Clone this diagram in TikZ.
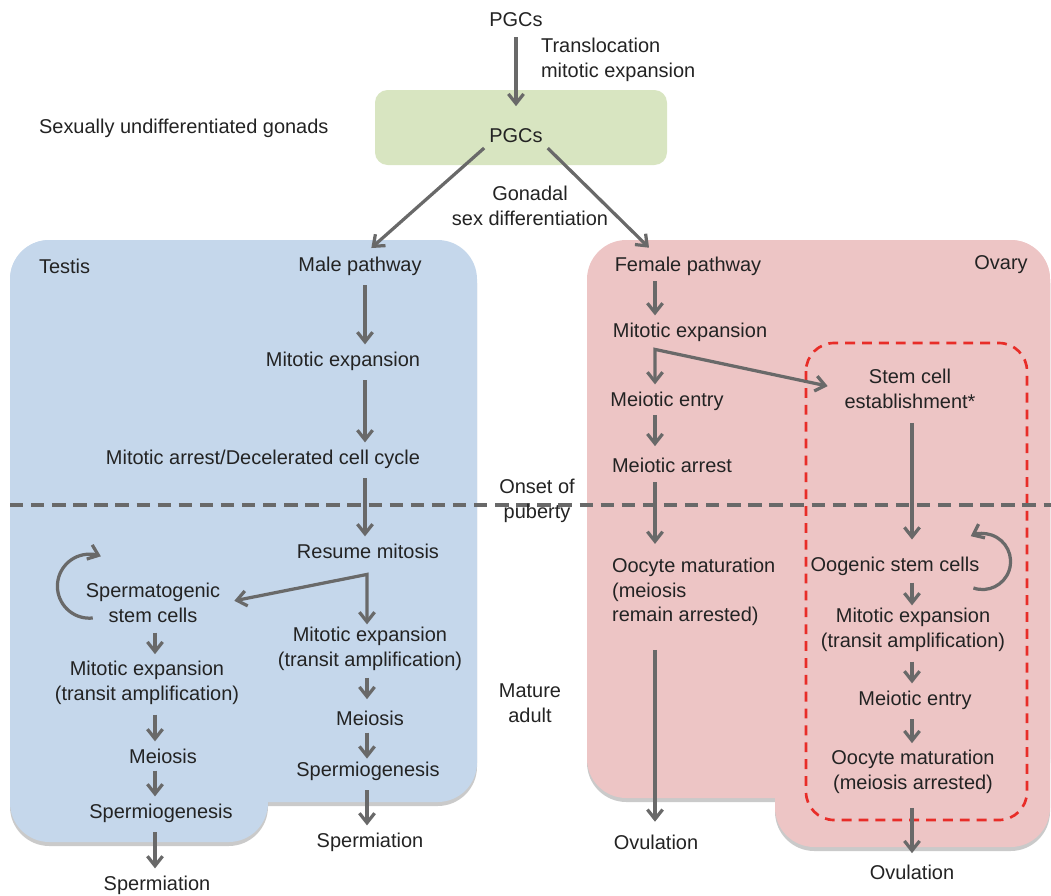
\documentclass[tikz,border=0pt]{standalone}
\usepackage{fontspec}
\setmainfont{Liberation Sans}
\usetikzlibrary{calc,positioning}
\usetikzlibrary{arrows.meta}
\tikzset{>={Straight Barb[width=3.8mm,length=2.4mm]}}
\definecolor{testisblue}{RGB}{197,215,235}
\definecolor{ovaryred}{RGB}{237,197,197}
\definecolor{gonadgreen}{RGB}{216,229,193}
\definecolor{arrgray}{RGB}{105,105,105}
\definecolor{txtgray}{RGB}{35,35,35}
\definecolor{stemred}{RGB}{232,45,40}

\begin{document}
\begin{tikzpicture}
        \begin{scope}[x=0.025cm,y=-0.025cm]

          \tikzstyle{lbl} = [text=txtgray, inner sep=2pt, align=center, font=\fontsize{14.2}{17.4}\selectfont]
          \tikzstyle{lbll} = [lbl, align=left]
          \tikzstyle{arr} = [->, draw=arrgray, line width=2.3pt, shorten <=5pt, shorten >=3pt]
          \tikzstyle{puberty} = [draw=arrgray, line width=2.5pt, dash pattern=on 9.5pt off 5.5pt]
          \tikzstyle{stembox} = [draw=stemred, line width=1.9pt, dash pattern=on 7pt off 5pt, rounded corners=20pt]
          \tikzstyle{region} = [rounded corners=28pt]

          \useasboundingbox (0,0) rectangle (1051,895);

          % regions
          \fill[region, black!35, opacity=0.6] (10,244) rectangle (477,806);
          \fill[region, black!35, opacity=0.6] (10,244) rectangle (268,846);
          \fill[region, black!35, opacity=0.6] (587,244) rectangle (1050,802);
          \fill[region, black!35, opacity=0.6] (775,244) rectangle (1050,851);
          \fill[region, testisblue] (10,240) rectangle (477,802);
          \fill[region, testisblue] (10,240) rectangle (268,842);
          \fill[region, ovaryred] (587,240) rectangle (1050,798);
          \fill[region, ovaryred] (775,240) rectangle (1050,847);
          \fill[gonadgreen, rounded corners=9pt] (375,90) rectangle (667,165);
          \draw[stembox] (806,343) rectangle (1027,820);
          \draw[puberty] (10,505) -- (1051,505);

          \node[lbl] (pgc0) at (516,20) {PGCs};
          \node[lbll, anchor=west] (transl) at (538,60) {Translocation\\mitotic expansion};
          \node[lbl] (pgc1) at (516,136) {PGCs};
          \node[lbll, anchor=west] (undiff) at (36,128) {Sexually undifferentiated gonads};
          \node[lbl] (gonadal) at (530,206) {Gonadal\\sex differentiation};

          \node[lbll, anchor=west] (testis) at (36,266) {Testis};
          \node[lbl] (male) at (360,266) {Male pathway};
          \node[lbl] (mexp) at (343,361) {Mitotic expansion};
          \node[lbl] (marr) at (263,459) {Mitotic arrest/Decelerated cell cycle};
          \node[lbl] (resume) at (368,551) {Resume mitosis};
          \node[lbl] (spgsc) at (153,603) {Spermatogenic\\stem cells};
          \node[lbl] (mexpL) at (147,683) {Mitotic expansion\\(transit amplification)};
          \node[lbl] (meiL) at (163,756) {Meiosis};
          \node[lbl] (spgL) at (161,813) {Spermiogenesis};
          \node[lbl] (sptL) at (157,885) {Spermiation};
          \node[lbl] (mexpR) at (370,649) {Mitotic expansion\\(transit amplification)};
          \node[lbl] (meiR) at (370,718) {Meiosis};
          \node[lbl] (spgR) at (368,771) {Spermiogenesis};
          \node[lbl] (sptR) at (370,842) {Spermiation};

          \node[lbl] (onset) at (537,501) {Onset of\\puberty};
          \node[lbl] (mature) at (530,703) {Mature\\adult};

          \node[lbl] (female) at (688,266) {Female pathway};
          \node[lbl] (ovary) at (1001,265) {Ovary};
          \node[lbl] (fexp) at (690,332) {Mitotic expansion};
          \node[lbl] (fment) at (667,401) {Meiotic entry};
          \node[lbl] (farr) at (672,465) {Meiotic arrest};
          \node[lbll, anchor=west] (oocA) at (609,592) {Oocyte maturation\\(meiosis\\remain arrested)};
          \node[lbl] (ovA) at (656,842) {Ovulation};
          \node[lbl] (stem) at (910,389) {Stem cell\\establishment*};
          \node[lbl] (oogsc) at (895,566) {Oogenic stem cells};
          \node[lbl] (oexp) at (913,630) {Mitotic expansion\\(transit amplification)};
          \node[lbl] (oment) at (915,700) {Meiotic entry};
          \node[lbl] (oocB) at (913,772) {Oocyte maturation\\(meiosis arrested)};
          \node[lbl] (ovB) at (912,872) {Ovulation};

          % arrow columns
          \coordinate (mcol) at (365,0);
          \coordinate (lcol) at (155,0);
          \coordinate (rcol) at (367,0);
          \coordinate (fcol) at (655,0);
          \coordinate (scol) at (912,0);
          \coordinate (rsplit) at ($(resume.south -| rcol)+(0,13)$);
          \coordinate (fsplit) at ($(fexp.south -| fcol)+(0,5)$);

          \draw[arr, shorten >=14pt] (pgc0) -- (pgc1);
          \draw[arr, shorten <=2pt, shorten >=6pt] (pgc1.south west) -- (male.north -| mcol);
          \draw[arr, shorten <=2pt, shorten >=6pt] (pgc1.south east) -- (female.north -| fcol);

          \draw[arr] (male.south -| mcol) -- (mexp.north -| mcol);
          \draw[arr] (mexp.south -| mcol) -- (marr.north -| mcol);
          \draw[arr] (marr.south -| mcol) -- (resume.north -| mcol);
          \draw[arr, <->, shorten <=8pt, shorten >=0pt] (spgsc.east) -- (rsplit) -- (mexpR.north -| rcol);
          \draw[arr] (spgsc.south -| lcol) -- (mexpL.north -| lcol);
          \draw[arr] (mexpL.south -| lcol) -- (meiL.north -| lcol);
          \draw[arr, shorten <=3pt] (meiL.south -| lcol) -- (spgL.north -| lcol);
          \draw[arr] (spgL.south -| lcol) -- (sptL.north -| lcol);
          \draw[arr, shorten <=3pt, shorten >=6pt] (mexpR.south -| rcol) -- (meiR.north -| rcol);
          \draw[arr, shorten <=3pt, shorten >=0pt] (meiR.south -| rcol) -- (spgR.north -| rcol);
          \draw[arr] (spgR.south -| rcol) -- (sptR.north -| rcol);
          \draw[arr, shorten <=0pt, shorten >=0pt] ($(spgsc.west)+(10,15)$) arc[start angle=84, end angle=291, radius=32];

          \draw[arr, shorten <=2pt] (female.south -| fcol) -- (fexp.north -| fcol);
          \draw[arr, <->, shorten <=3pt, shorten >=10pt] (fment.north -| fcol) -- (fsplit) -- (stem.west);
          \draw[arr, shorten <=1pt, shorten >=6pt] (fment.south -| fcol) -- (farr.north -| fcol);
          \draw[arr, shorten >=8pt] (farr.south -| fcol) -- (oocA.north -| fcol);
          \draw[arr, shorten <=15pt, shorten >=7pt] (oocA.south -| fcol) -- (ovA.north -| fcol);

          \draw[arr, shorten <=8pt, shorten >=10pt] (stem.south -| scol) -- (oogsc.north -| scol);
          \draw[arr, shorten <=3pt, shorten >=0pt] (oogsc.south -| scol) -- (oexp.north -| scol);
          \draw[arr] (oexp.south -| scol) -- (oment.north -| scol);
          \draw[arr] (oment.south -| scol) -- (oocB.north -| scol);
          \draw[arr, shorten <=8pt, shorten >=6pt] (oocB.south -| scol) -- (ovB.north -| scol);
          \draw[arr, shorten <=0pt, shorten >=0pt] ($(oogsc.east)+(-9,22)$) arc[start angle=109, end angle=-115, radius=28];

        \end{scope}
      \end{tikzpicture}
\end{document}
